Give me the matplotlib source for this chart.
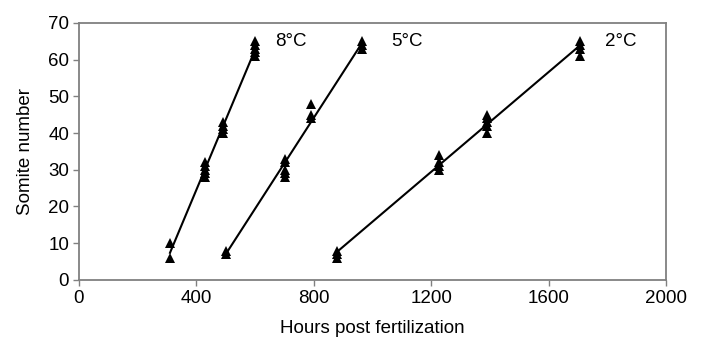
import numpy as np
import matplotlib
matplotlib.use("Agg")
import matplotlib.pyplot as plt

plt.rcParams['font.family'] = ['Liberation Sans', 'DejaVu Sans']

# somite counts at each sampling time, per temperature
hours_8c = [310, 310, 430, 430, 430, 430, 430, 490, 490, 490, 490, 600, 600, 600, 600, 600]
somites_8c = [6, 10, 28, 29, 30, 31, 32, 40, 41, 42, 43, 61, 62, 63, 64, 65]

hours_5c = [500, 500, 700, 700, 700, 700, 700, 790, 790, 790, 965, 965, 965]
somites_5c = [7, 8, 28, 29, 30, 32, 33, 44, 45, 48, 63, 64, 65]

hours_2c = [880, 880, 880, 1225, 1225, 1225, 1225, 1390, 1390, 1390, 1390, 1390, 1705, 1705, 1705, 1705]
somites_2c = [6, 7, 8, 30, 31, 32, 34, 40, 42, 43, 44, 45, 61, 63, 64, 65]

labels = ["8°C", "5°C", "2°C"]
label_x = [668, 1062, 1792]
label_y = 65

x_ticks = [0, 400, 800, 1200, 1600, 2000]
y_ticks = [0, 10, 20, 30, 40, 50, 60, 70]

fig = plt.figure(figsize=(7.05, 3.43), dpi=100)
ax = fig.add_axes([0.112, 0.184, 0.833, 0.749])

series = [(hours_8c, somites_8c), (hours_5c, somites_5c), (hours_2c, somites_2c)]
for (hx, sy), lab, lx in zip(series, labels, label_x):
    hx = np.array(hx, dtype=float)
    sy = np.array(sy, dtype=float)
    ax.plot(hx, sy, '^', color='black', ms=6.5, mew=0)
    # linear trendline over the sampled range
    slope, icpt = np.polyfit(hx, sy, 1)
    xs = np.array([hx.min(), hx.max()])
    ax.plot(xs, slope * xs + icpt, color='black', lw=1.5)
    ax.text(lx, label_y, lab, fontsize=13.5, va='center', ha='left')

ax.set_xlim(0, 2000)
ax.set_ylim(0, 70)
ax.set_xticks(x_ticks)
ax.set_yticks(y_ticks)
ax.tick_params(direction='out', length=4, width=1, color='#808080',
               labelsize=13.5, pad=3)
for sp in ax.spines.values():
    sp.set_color('#808080')
    sp.set_linewidth(1.3)

ax.set_xlabel("Hours post fertilization", fontsize=13.5, labelpad=10)
ax.set_ylabel("Somite number", fontsize=13.5, labelpad=10)

fig.savefig("out.png", dpi=100)
